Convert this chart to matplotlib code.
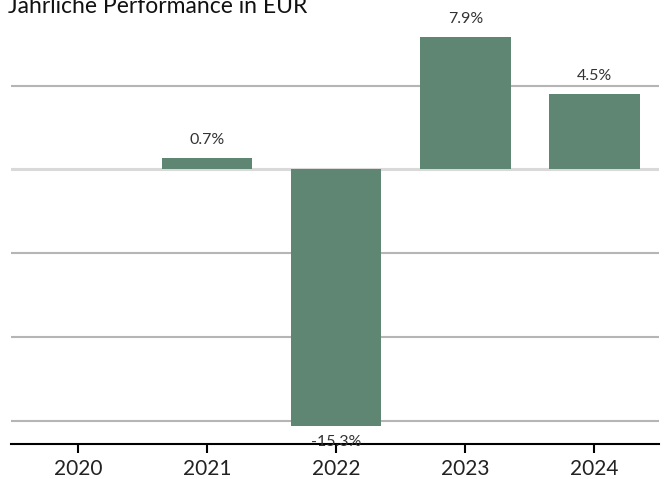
import matplotlib

matplotlib.use("Agg")
import matplotlib.pyplot as plt

YEARS = ["2020", "2021", "2022", "2023", "2024"]
PERF = [None, 0.7, -15.3, 7.9, 4.5]
GRID_LEVELS = [5, -5, -10, -15]
BAR_COLOR = "#5f8573"

plt.rcParams["font.family"] = ["Lato", "DejaVu Sans"]

fig = plt.figure(figsize=(6.65, 4.79), dpi=100)
ax = fig.add_axes([11 / 665, 1 - 444 / 479, 648 / 665, 434 / 479])

xs = list(range(len(YEARS)))
for y in GRID_LEVELS:
    ax.axhline(y, color="#b5b5b5", linewidth=1.5, zorder=0)
ax.axhline(0, color="#d9d9d9", linewidth=2.2, zorder=0)

for x, v in zip(xs, PERF):
    if v is None:
        continue
    ax.bar(x, v, width=0.7, color=BAR_COLOR, zorder=2)
    off = 8 if v >= 0 else -6
    ax.annotate(f"{v:.1f}%", (x, v), xytext=(0, off), textcoords="offset points",
                ha="center", va="bottom" if v >= 0 else "top",
                fontsize=11.5, color="#333333", zorder=3)

ax.set_xlim(-0.52, 4.5)
ax.set_ylim(-16.35, 9.5)
ax.set_xticks(xs)
ax.set_xticklabels(YEARS, fontsize=15, color="#222222")
ax.set_yticks([])
for s in ("top", "right", "left"):
    ax.spines[s].set_visible(False)
ax.spines["bottom"].set_linewidth(1.5)
ax.tick_params(axis="x", length=6.5, width=1.5, pad=4.5)

fig.text(8 / 665, 1 - 13 / 479, "Jährliche Performance in EUR", fontsize=16.5,
         va="baseline", ha="left", color="#111111")

fig.savefig("out.png", dpi=100)
